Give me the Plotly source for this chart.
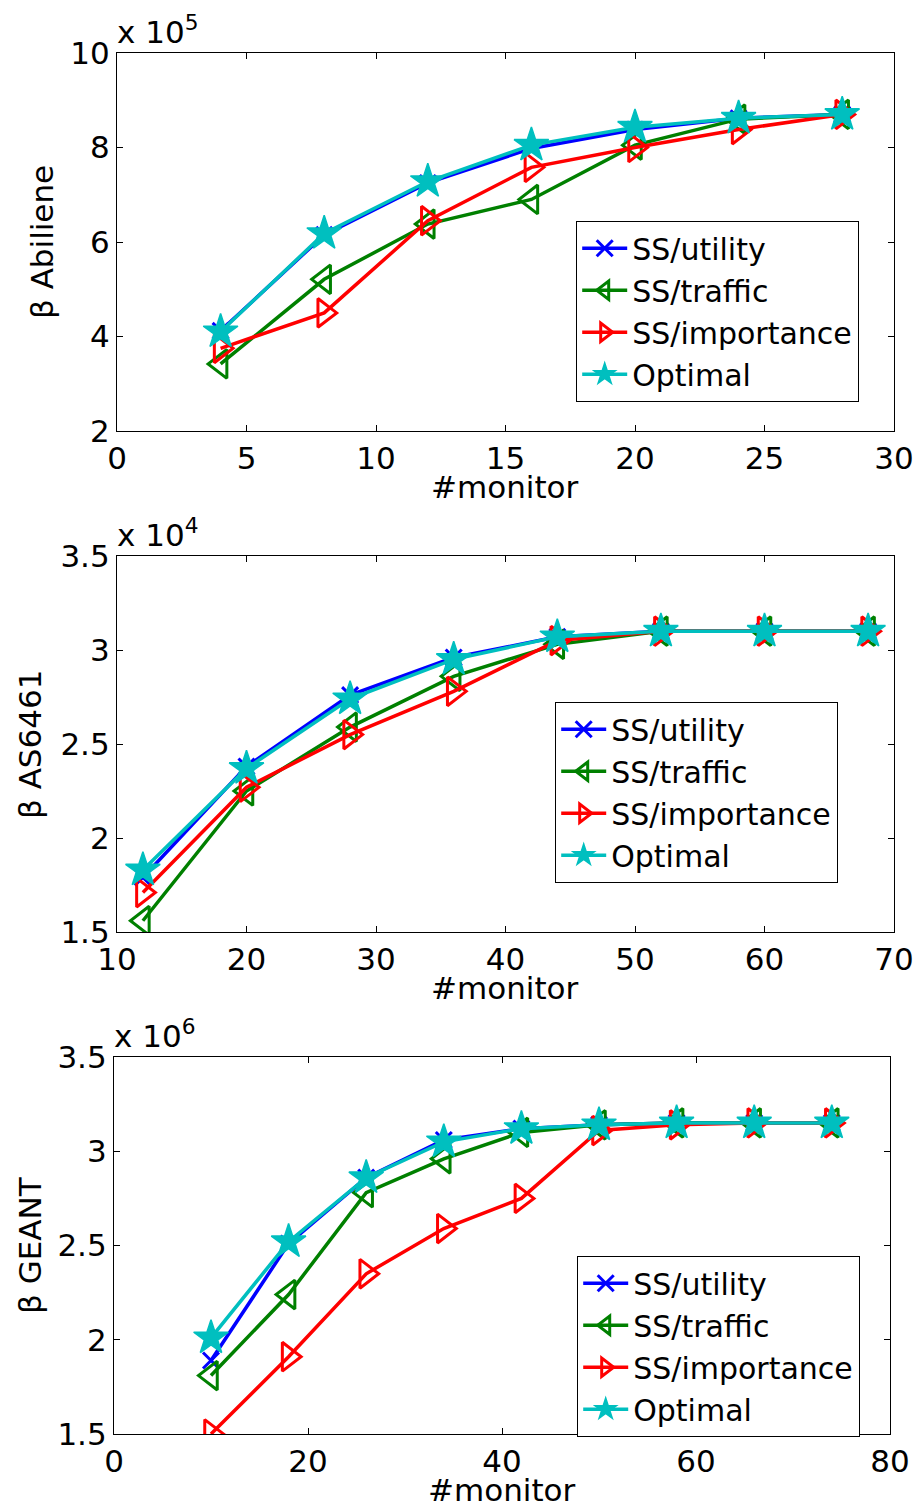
import plotly.graph_objects as go

# ---------------- data (values shown in axis units, i.e. before the "x 10^n" multiplier) -------------
series_names = ["SS/utility", "SS/traffic", "SS/importance", "Optimal"]

# Panel 1: Abiliene (x 10^5)
abil_x = [4, 8, 12, 16, 20, 24, 28]
abil_utility = [4.12, 6.15, 7.25, 7.98, 8.38, 8.62, 8.70]
abil_traffic = [3.42, 5.21, 6.38, 6.90, 8.05, 8.60, 8.70]
abil_importance = [3.75, 4.50, 6.45, 7.58, 8.00, 8.38, 8.70]
abil_optimal = [4.10, 6.18, 7.28, 8.05, 8.43, 8.62, 8.70]

# Panel 2: AS6461 (x 10^4)
as_x = [12, 20, 28, 36, 44, 52, 60, 68]
as_utility = [1.79, 2.38, 2.76, 2.96, 3.07, 3.10, 3.10, 3.10]
as_traffic = [1.56, 2.25, 2.59, 2.86, 3.03, 3.10, 3.10, 3.10]
as_importance = [1.71, 2.27, 2.55, 2.78, 3.05, 3.10, 3.10, 3.10]
as_optimal = [1.83, 2.37, 2.74, 2.95, 3.07, 3.10, 3.10, 3.10]

# Panel 3: GEANT (x 10^6)
geant_x = [10, 18, 26, 34, 42, 50, 58, 66, 74]
geant_utility = [1.89, 2.51, 2.86, 3.06, 3.12, 3.14, 3.15, 3.15, 3.15]
geant_traffic = [1.81, 2.24, 2.78, 2.96, 3.10, 3.14, 3.15, 3.15, 3.15]
geant_importance = [1.50, 1.91, 2.35, 2.59, 2.75, 3.11, 3.14, 3.15, 3.15]
geant_optimal = [2.01, 2.52, 2.86, 3.05, 3.12, 3.14, 3.15, 3.15, 3.15]

panel_ylabels = ["β Abiliene", "β AS6461", "β GEANT"]
panel_exponents = ["5", "4", "6"]
xlabel = "#monitor"

# ---------------- styling ----------------
W, H = 920, 1506
FONT = "DejaVu Sans, Liberation Sans, Arial, sans-serif"
FS = 31
LFS = 30
colors = ["#0000FF", "#008000", "#FF0000", "#00BFBF"]
symbols = ["x-thin-open", "triangle-left-open", "triangle-right-open", "star"]
msizes = [16, 25, 25, 26]

def px_x(p):
    return p / W

def px_y(p):
    return 1 - p / H

panels = [
    dict(x=abil_x, ys=[abil_utility, abil_traffic, abil_importance, abil_optimal],
         box=(117, 894, 53, 431), xr=[0, 30], xd=5, yr=[2, 10], yd=2,
         legend=(576, 221), ylab=(42, 242), xlab=(505, 487)),
    dict(x=as_x, ys=[as_utility, as_traffic, as_importance, as_optimal],
         box=(117, 894, 556, 932), xr=[10, 70], xd=10, yr=[1.5, 3.5], yd=0.5,
         legend=(555, 702), ylab=(30, 745), xlab=(505, 988)),
    dict(x=geant_x, ys=[geant_utility, geant_traffic, geant_importance, geant_optimal],
         box=(114, 890, 1057, 1434), xr=[0, 80], xd=20, yr=[1.5, 3.5], yd=0.5,
         legend=(577, 1256), ylab=(30, 1245), xlab=(502, 1490)),
]

fig = go.Figure()
annotations = []
layout = {}

for i, p in enumerate(panels):
    k = "" if i == 0 else str(i + 1)
    xa, ya = "x" + k, "y" + k
    lg = "legend" + k
    for j in range(4):
        fig.add_trace(go.Scatter(
            x=p["x"], y=p["ys"][j], name=series_names[j], mode="lines+markers",
            xaxis=xa, yaxis=ya, legend=lg,
            line=dict(color=colors[j], width=3.5),
            marker=dict(symbol=symbols[j], size=msizes[j], color=colors[j],
                        line=dict(color=colors[j], width=3 if j < 3 else 1.5)),
        ))
    l, r, t, b = p["box"]
    axcommon = dict(showline=True, linecolor="black", linewidth=1.2, mirror="ticks",
                    ticks="inside", ticklen=6, tickcolor="black", showgrid=False,
                    zeroline=False, automargin=False,
                    tickfont=dict(family=FONT, size=FS, color="black"))
    layout["xaxis" + k] = dict(domain=[px_x(l), px_x(r)], range=p["xr"], dtick=p["xd"],
                               tick0=0, anchor=ya, ticklabelstandoff=0, **axcommon)
    layout["yaxis" + k] = dict(domain=[px_y(b), px_y(t)], range=p["yr"], dtick=p["yd"],
                               tick0=0, anchor=xa, ticklabelstandoff=0, **axcommon)
    lx, ly = p["legend"]
    layout[lg] = dict(x=px_x(lx), y=px_y(ly), xanchor="left", yanchor="top",
                      bgcolor="white", bordercolor="black", borderwidth=1.2,
                      font=dict(family=FONT, size=LFS, color="black"),
                      tracegroupgap=0, itemwidth=45)
    # exponent label
    annotations.append(dict(x=px_x(l - 2), y=px_y(t) + 1 / H, xref="paper", yref="paper",
                            xanchor="left", yanchor="bottom", showarrow=False,
                            text="x 10<sup>" + panel_exponents[i] + "</sup>",
                            font=dict(family=FONT, size=FS, color="black")))
    yx, yy = p["ylab"]
    annotations.append(dict(x=px_x(yx), y=px_y(yy), xref="paper", yref="paper",
                            xanchor="center", yanchor="middle", showarrow=False,
                            textangle=-90, text=panel_ylabels[i],
                            font=dict(family=FONT, size=FS, color="black")))
    xx, xy = p["xlab"]
    annotations.append(dict(x=px_x(xx), y=px_y(xy), xref="paper", yref="paper",
                            xanchor="center", yanchor="middle", showarrow=False,
                            text=xlabel, font=dict(family=FONT, size=FS, color="black")))

fig.update_layout(width=W, height=H,
                  margin=dict(l=0, r=0, t=0, b=0, pad=0, autoexpand=False),
                  paper_bgcolor="white", plot_bgcolor="white",
                  annotations=annotations, **layout)

fig.write_html("out.html")
